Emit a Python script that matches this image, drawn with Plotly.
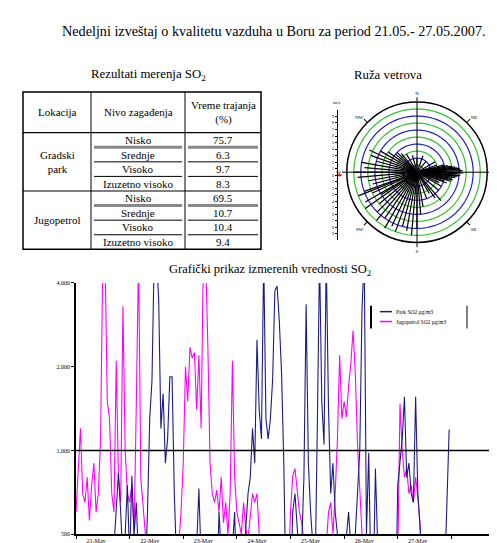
import numpy as np
import pandas as pd
import plotly.graph_objects as go

W, H = 497, 543
SERIF = "Liberation Serif, Times New Roman, serif"

# ---------------- text ----------------
TITLE = "Nedeljni izveštaj o kvalitetu vazduha u Boru za period 21.05.- 27.05.2007."
TABLE_TITLE = "Rezultati merenja SO<sub>2</sub>"
ROSE_TITLE = "Ruža vetrova"
CHART_TITLE = "Grafički prikaz izmerenih vrednosti SO<sub>2</sub>"

# ---------------- table data ----------------
TABLE_HEADER = ["Lokacija", "Nivo zagađenja", "Vreme trajanja<br>(%)"]
LOCATIONS = ["Gradski<br>park", "Jugopetrol"]
LEVELS = ["Nisko", "Srednje", "Visoko", "Izuzetno visoko"]
DURATION_PARK = [75.7, 6.3, 9.7, 8.3]
DURATION_JUGOPETROL = [69.5, 10.7, 10.4, 9.4]

# ---------------- wind rose data ----------------
WIND_DIR = [0, 20, 40, 60, 70, 75, 78, 80, 82, 84, 85, 86, 88, 90, 91, 92, 94, 95, 96, 98, 100,
            102, 103, 105, 108, 110, 115, 120, 130, 140, 145, 150, 160, 170, 175, 180, 185,
            190, 195, 200, 205, 210, 215, 220, 225, 230, 235, 238, 240, 245, 248, 250, 255,
            260, 265, 270, 275, 280, 285, 290, 295, 300, 305, 310, 315, 320, 330, 345]
WIND_SPEED = [2, 2.5, 2, 3, 3, 4, 4.5, 5, 5.5, 5.8, 6, 6.2, 6.5, 6.3, 6.6, 5.8, 6.2, 6, 5.7, 5.5, 5,
              5.2, 4.5, 5, 4, 4.5, 3.5, 4, 4, 5.3, 4.5, 3.5, 4, 5, 6, 8, 9,
              8.5, 8, 9, 8.5, 9.2, 8, 9, 8, 7, 9, 6, 8.5, 7, 9, 8, 6.5,
              7, 8.5, 9, 7.5, 8, 6, 7, 7.5, 6, 5, 4, 4, 3.5, 3, 2.5]
RING_R = [2, 3, 4, 5, 6, 7, 8, 9]
RING_COLORS = ["#2020c0", "#30c030", "#2020c0", "#30c030", "#2020c0", "#30c030", "#2020c0", "#30c030"]
COMPASS = ["N", "NE", "E", "SE", "S", "SW", "W", "NW"]
SCALE_TICKS = [-9, -8, -7, -6, -5, -4, -3, -2, -1, 0, 1, 2, 3, 4, 5, 6, 7, 8, 9]
SCALE_LABELS = ["9", "8", "7", "6", "5", "4", "3", "2", "1", "0", "1", "2", "3", "4", "5", "6", "7", "8", "9"]

# ---------------- SO2 hourly series (µg/m3), 21.05. 00h .. 27.05. 23h ----------------
JUGOPETROL_SO2 = [
    600, 900, 1200, 700, 650, 800, 560, 750, 900, 600, 700, 1100, 5000, 5000, 1500, 1300, 700, 600, 2100, 800, 650, 3300, 1000, 700,
    650, 750, 500, 1500, 5000, 800, 600, 450, 400, 350, 300, 300, 300, 300, 300, 300, 300, 300, 300, 300, 300, 350, 450, 600,
    900, 2000, 1500, 2350, 2150, 2250, 1400, 2200, 1200, 5000, 5000, 2400, 900, 700, 650, 720, 600, 800, 550, 650, 500, 700, 2100, 800,
    600, 550, 500, 650, 520, 480, 600, 700, 650, 700, 500, 400, 350, 450, 350, 350, 350, 350, 350, 350, 350, 350, 350, 350,
    600, 810, 860, 700, 600, 550, 450, 400, 350, 300, 300, 350, 300, 350, 300, 400, 450, 600, 650, 500, 700, 1100, 2200, 1300,
    1500, 1320, 1700, 2050, 2700, 1900, 1050, 650, 450, 350, 300, 300, 300, 300, 300, 300, 300, 300, 300, 300, 300, 300, 300, 350,
    400, 1470, 1000, 800, 860, 700, 750, 650, 800, 680, 540, 300, 300, 300, 300, 300, 300, 300, 300, 300, 300, 350, 450, 300,
]
PARK_SO2 = [
    350, 300, 400, 300, 350, 300, 250, 350, 300, 400, 300, 350, 300, 400, 300, 350, 300, 450, 600, 830, 600, 400, 500, 750,
    400, 810, 500, 650, 400, 350, 300, 350, 600, 1300, 1780, 5000, 5000, 3500, 1200, 1600, 900, 1100, 1840, 1840, 700, 400, 300, 300,
    350, 300, 350, 400, 350, 300, 450, 730, 400, 350, 300, 350, 300, 400, 350, 300, 600, 350, 300, 400, 350, 300, 450, 600,
    300, 350, 300, 400, 500, 700, 800, 1200, 900, 2500, 1400, 1100, 5000, 1300, 1100, 1300, 1800, 3750, 3900, 2900, 1900, 900, 300, 250,
    300, 600, 700, 500, 400, 450, 800, 3350, 900, 600, 450, 350, 1200, 5000, 1500, 1050, 5000, 1430, 700, 900, 600, 500, 400, 350,
    400, 500, 600, 450, 400, 500, 700, 1000, 3200, 5000, 500, 980, 350, 300, 860, 300, 250, 250, 250, 250, 250, 250, 250, 250,
    750, 900, 1100, 1560, 800, 900, 700, 650, 1560, 700, 500, 300, 300, 300, 300, 300, 300, 300, 300, 300, 300, 350, 670, 1190,
]
SERIES_NAMES = ["Park SO2 µg/m3", "Jugopetrol SO2 µg/m3"]
SERIES_COLORS = ["#1c1c80", "#ff00ff"]
HOURS = pd.date_range("2007-05-21 00:00", periods=len(PARK_SO2), freq="h")
DAY_TICKS = pd.date_range("2007-05-21", periods=8, freq="D")
X_LABEL_POS = pd.date_range("2007-05-21 09:00", periods=7, freq="D")
X_TICK_LABELS = ["21-May", "22-May", "23-May", "24-May", "25-May", "26-May", "27-May"]
Y_TICKS = [500, 1000, 2000, 4000]
Y_TICK_LABELS = ["500", "1,000", "2,000", "4,000"]
LIMIT = 1000


def px(x):
    return x / W


def py(y):
    return 1 - y / H


fig = go.Figure()

# ---- SO2 time series ----
fig.add_trace(go.Scatter(x=HOURS, y=JUGOPETROL_SO2, mode="lines", name=SERIES_NAMES[1],
                         line=dict(color=SERIES_COLORS[1], width=1.1), showlegend=False))
fig.add_trace(go.Scatter(x=HOURS, y=PARK_SO2, mode="lines", name=SERIES_NAMES[0],
                         line=dict(color=SERIES_COLORS[0], width=1.1), showlegend=False))

# ---- wind rose ----
theta_circle = np.linspace(0, 360, 181)
for r, c in zip(RING_R, RING_COLORS):
    fig.add_trace(go.Scatterpolar(r=[r] * len(theta_circle), theta=theta_circle, mode="lines",
                                  line=dict(color=c, width=1.2), showlegend=False, hoverinfo="skip"))
fig.add_trace(go.Scatterpolar(r=[1] * len(theta_circle), theta=theta_circle, mode="lines",
                              line=dict(color="black", width=1), showlegend=False, hoverinfo="skip"))
cross_r, cross_t = [], []
for t in [0, 90, 180, 270]:
    cross_r += [0, 10, None]
    cross_t += [t, t, None]
fig.add_trace(go.Scatterpolar(r=cross_r, theta=cross_t, mode="lines",
                              line=dict(color="black", width=1), showlegend=False, hoverinfo="skip"))
spoke_r, spoke_t = [], []
for d, s in zip(WIND_DIR, WIND_SPEED):
    spoke_r += [0, s, None]
    spoke_t += [d, d, None]
fig.add_trace(go.Scatterpolar(r=spoke_r, theta=spoke_t, mode="lines",
                              line=dict(color="black", width=1.2), showlegend=False))

# ---- wind speed scale ----
fig.add_trace(go.Scatter(x=[0], y=[0], mode="markers", xaxis="x3", yaxis="y3",
                         marker=dict(color="red", symbol="line-ew-open", size=5, line=dict(width=2, color="red")),
                         showlegend=False, hoverinfo="skip"))

# ---- table shapes ----
TX = [15, 83, 177, 253]
TY0, TY_HEAD, TY1 = 82, 123, 241
row_h = (TY1 - TY_HEAD) / 8
shapes = []


def hline(x0, x1, y, w=1, c="black"):
    shapes.append(dict(type="line", xref="paper", yref="paper", x0=px(x0), x1=px(x1), y0=py(y), y1=py(y),
                       line=dict(color=c, width=w)))


def vline(x, y0, y1, w=1, c="black"):
    shapes.append(dict(type="line", xref="paper", yref="paper", x0=px(x), x1=px(x), y0=py(y0), y1=py(y1),
                       line=dict(color=c, width=w)))


shapes.append(dict(type="rect", xref="paper", yref="paper", x0=px(TX[0]), x1=px(TX[3]), y0=py(TY1), y1=py(TY0),
                   line=dict(color="black", width=1.5)))
vline(TX[1], TY0, TY1)
vline(TX[2], TY0, TY1)
hline(TX[0], TX[3], TY_HEAD, 1.2)
hline(TX[0], TX[3], TY_HEAD + 4 * row_h, 1.2)
for g in range(2):
    for k in range(1, 4):
        y = TY_HEAD + (4 * g + k) * row_h
        if k == 1:
            hline(TX[1] + 3, TX[2] - 3, y, 3, "#888")
            hline(TX[2] + 3, TX[3] - 3, y, 3, "#888")
        else:
            hline(TX[1] + 3, TX[2] - 3, y, 1)
            hline(TX[2] + 3, TX[3] - 3, y, 1)

# limit line in the SO2 chart
shapes.append(dict(type="line", xref="paper", yref="y", x0=px(68), x1=1, y0=LIMIT, y1=LIMIT,
                   line=dict(color="black", width=1.5)))

# ---- legend box (compact, as in the scan) ----
LG_X0, LG_X1, LG_Y0, LG_Y1 = 363, 459, 298, 321
vline(LG_X0, LG_Y0, LG_Y1, 2)
vline(LG_X1, LG_Y0, LG_Y1, 1)
ann = []


def text(x, y, s, size=10, xanchor="center"):
    ann.append(dict(x=px(x), y=py(y), xref="paper", yref="paper", text=s, showarrow=False,
                    xanchor=xanchor, yanchor="middle", font=dict(family=SERIF, size=size, color="black")))


for i, (nm, col) in enumerate(zip(SERIES_NAMES, SERIES_COLORS)):
    yy = 304 + i * 10
    hline(372, 384, yy, 1.5, col)
    text(386, yy, nm, 5.5, xanchor="left")

text(266, 20, TITLE, 14.2)
text(140, 65, TABLE_TITLE, 12.8)
text(380, 65, ROSE_TITLE, 12.8)
text(262, 262, CHART_TITLE, 12.5)
text(328, 93, "m/s", 5)

head_y = (TY0 + TY_HEAD) / 2
for i, h in enumerate(TABLE_HEADER):
    text((TX[i] + TX[i + 1]) / 2, head_y, h, 11)
for g, (loc, vals) in enumerate(zip(LOCATIONS, [DURATION_PARK, DURATION_JUGOPETROL])):
    text((TX[0] + TX[1]) / 2, TY_HEAD + (4 * g + 2) * row_h, loc, 11)
    for k in range(4):
        yc = TY_HEAD + (4 * g + k + 0.5) * row_h
        text((TX[1] + TX[2]) / 2, yc, LEVELS[k], 11)
        text((TX[2] + TX[3]) / 2, yc, f"{vals[k]:.1f}", 11)

fig.update_layout(
    width=W, height=H,
    margin=dict(l=0, r=0, t=0, b=0),
    paper_bgcolor="white", plot_bgcolor="white",
    font=dict(family=SERIF, color="black"),
    shapes=shapes, annotations=ann,
    showlegend=False,
    xaxis=dict(domain=[px(68), 1], type="date", range=["2007-05-21", "2007-05-29"],
               tickmode="array", tickvals=X_LABEL_POS, ticktext=X_TICK_LABELS,
               ticks="", ticklen=0,
               minor=dict(tickmode="array", tickvals=DAY_TICKS, ticks="outside", ticklen=3,
                          tickcolor="black", showgrid=False),
               showline=True, linecolor="black", linewidth=1.5, showgrid=False, zeroline=False,
               tickfont=dict(family=SERIF, size=6), anchor="y"),
    yaxis=dict(domain=[py(529), py(275)], type="log", range=[np.log10(500), np.log10(4000)],
               tickmode="array", tickvals=Y_TICKS, ticktext=Y_TICK_LABELS,
               ticks="outside", ticklen=3, tickcolor="black",
               showline=True, linecolor="black", linewidth=1.5, showgrid=False, zeroline=False,
               tickfont=dict(family=SERIF, size=6), anchor="x"),
    xaxis3=dict(domain=[px(330), px(336)], range=[0, 1], visible=False, anchor="y3"),
    yaxis3=dict(domain=[py(232), py(100)], range=[-10, 10], anchor="x3",
                tickmode="array", tickvals=SCALE_TICKS, ticktext=SCALE_LABELS,
                ticks="outside", ticklen=2, tickcolor="black", showline=True, linecolor="black",
                linewidth=1.2, showgrid=False, zeroline=False, tickfont=dict(family=SERIF, size=4)),
    polar=dict(domain=dict(x=[px(338), px(480)], y=[py(234), py(92)]), bgcolor="white",
               radialaxis=dict(range=[0, 10], visible=False, showgrid=False),
               angularaxis=dict(direction="clockwise", rotation=90, tickmode="array",
                                tickvals=[0, 45, 90, 135, 180, 225, 270, 315], ticktext=COMPASS,
                                showgrid=False, showline=True, linecolor="black", linewidth=1.5,
                                ticks="outside", ticklen=4, tickcolor="black",
                                tickfont=dict(family=SERIF, size=5))),
)

fig.write_html("out.html")
